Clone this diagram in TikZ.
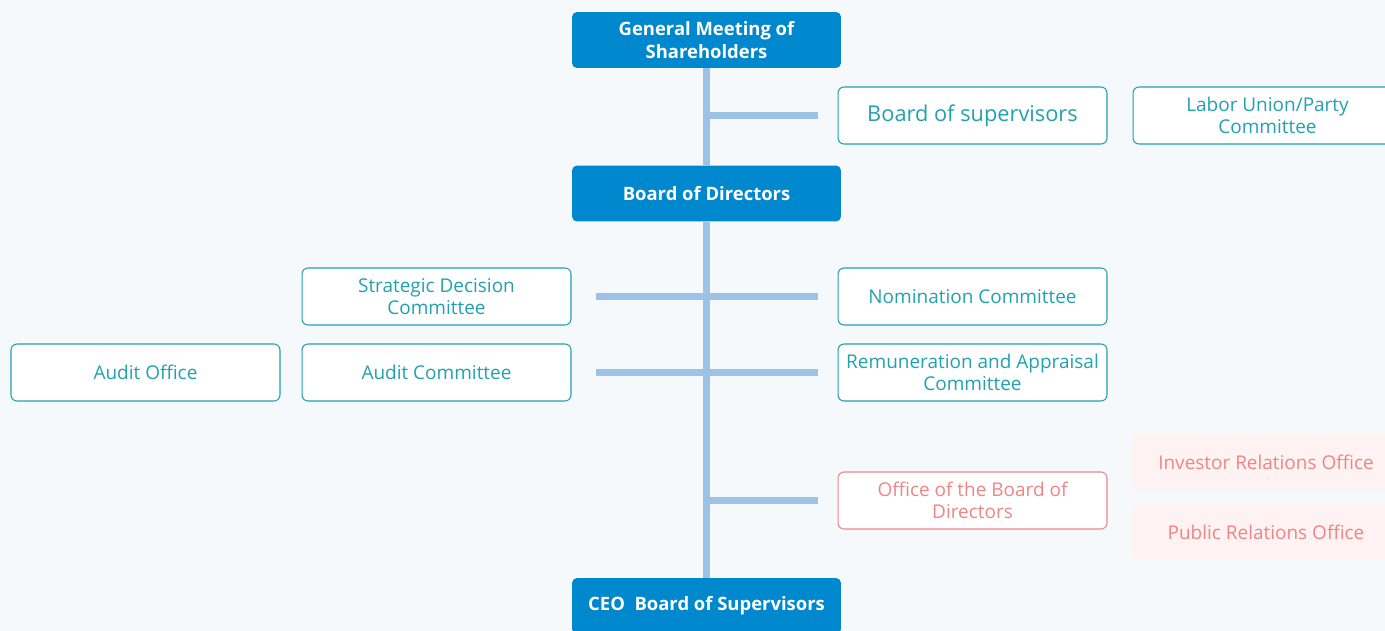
\documentclass[tikz,border=0pt]{standalone}
\usepackage{fontspec}
\setmainfont{Open Sans}
\usetikzlibrary{positioning,calc}
\definecolor{chartbg}{HTML}{F5F9FC}
\definecolor{headblue}{HTML}{0088CE}
\definecolor{trunkblue}{HTML}{9CC2E6}
\definecolor{tealline}{HTML}{22A2AD}
\definecolor{salmon}{HTML}{F08585}
\definecolor{pinkfill}{HTML}{FFF2F2}

\tikzset{
  headbox/.style={draw=none, fill=headblue, text=white, rounded corners=0.1cm,
    minimum width=5.38cm, minimum height=1.12cm, inner sep=0pt, align=center,
    font=\fontsize{10.5}{12.6}\selectfont\bfseries},
  unitbox/.style={draw=tealline, line width=0.6pt, fill=white, text=tealline,
    rounded corners=0.12cm, minimum width=5.38cm, minimum height=1.14cm,
    inner sep=0pt, align=center, font=\fontsize{10.8}{12.6}\selectfont},
  officebox/.style={unitbox, draw=salmon, text=salmon},
  subofficebox/.style={unitbox, draw=none, fill=pinkfill, text=salmon,
    minimum height=1.12cm},
  branch/.style={trunkblue, line width=0.14cm},
}

\begin{document}
\begin{tikzpicture}[x=0.02cm, y=-0.02cm]
    % Canvas
    \useasboundingbox (0,0) rectangle (1385,631);
    \fill[chartbg] (0,0) rectangle (1385,631);

    % Main line of command
    \node[headbox] (gms) at (706.5, 40) {General Meeting of\\Shareholders};
    \node[headbox] (bod) at (706.5, 193.5) {Board of Directors};
    \node[headbox] (ceo) at (706.5, 606) {CEO\ \ Board of Supervisors};

    % Supervisory bodies
    \node[unitbox, font=\fontsize{12.4}{14}\selectfont] (sup) at (972.5, 115.5) {Board of supervisors};
    \node[unitbox] (labor) at (1267.5, 115.5) {Labor Union/Party\\Committee};

    % Board committees
    \node[unitbox] (strat) at (436.5, 296.5) {Strategic Decision\\Committee};
    \node[unitbox] (nom) at (972.5, 296.5) {Nomination Committee};
    \node[unitbox] (auditoff) at (145.5, 372.5) {Audit Office};
    \node[unitbox] (auditcom) at (436.5, 372.5) {Audit Committee};
    \node[unitbox] (remu) at (972.5, 372.5) {Remuneration and Appraisal\\Committee};

    % Board office
    \node[officebox] (office) at (972.5, 500.5) {Office of the Board of\\Directors};
    \node[subofficebox] (investor) at (1266, 462) {Investor Relations Office};
    \node[subofficebox] (public) at (1266, 532) {Public Relations Office};

    % Trunk and branches
    \draw[branch] (gms.south) -- (bod.north);
    \draw[branch] (bod.south) -- (ceo.north);
    \draw[branch] (gms.south |- sup.west) -- ($(sup.west)+(-20,0)$);
    \draw[branch] ($(strat.east)+(24,0)$) -- ($(nom.west)+(-20,0)$);
    \draw[branch] ($(auditcom.east)+(24,0)$) -- ($(remu.west)+(-20,0)$);
    \draw[branch] (gms.south |- office.west) -- ($(office.west)+(-20,0)$);
\end{tikzpicture}
\end{document}
